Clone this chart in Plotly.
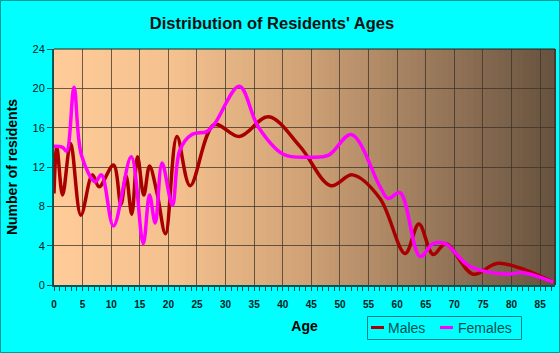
import plotly.graph_objects as go

# ---- data ----
male_ages = [0, 0.5, 1.5, 2.9, 4.7, 6.7, 7.9, 10.4, 11.7, 12.6, 13.6, 14.6, 15.7, 16.7, 18.0, 19.5,
             21.5, 23.8, 28.0, 32.4, 37.5, 43.0, 48.4, 52.2, 57.0, 61.4, 63.8, 66.3, 68.5, 73.3, 77.7, 87.3]
male_vals = [9.3, 14.0, 9.15, 14.4, 7.1, 11.2, 10.0, 12.2, 8.2, 11.1, 7.2, 13.05, 9.15, 12.1, 9.4, 5.2,
             15.1, 10.1, 16.3, 15.1, 17.1, 14.1, 10.1, 11.2, 8.8, 3.2, 6.2, 3.1, 4.2, 1.1, 2.2, 0.3]

female_ages = [0, 1.5, 2.2, 3.5, 4.8, 7.2, 8.3, 10.4, 13.5, 15.6, 16.7, 17.7, 18.9, 20.7, 22.0, 24.1,
               26.7, 28.1, 32.4, 35.7, 40.1, 44.8, 48.0, 52.0, 57.0, 58.4, 60.5, 64.0, 66.3, 68.4,
               72.7, 79.1, 82.0, 87.3]
female_vals = [14.1, 14.0, 13.6, 20.1, 13.2, 10.5, 11.2, 6.0, 13.05, 4.2, 9.15, 6.3, 12.4, 8.1, 13.7, 15.3,
               15.6, 16.4, 20.2, 16.1, 13.3, 13.0, 13.2, 15.3, 10.0, 8.8, 9.4, 2.9, 4.2, 4.2,
               1.9, 1.1, 1.25, 0.3]

x_ticks = list(range(0, 90, 5))
y_ticks = list(range(0, 25, 4))
series_names = ["Males", "Females"]
series_colors = ["#A80000", "#FF00FF"]

W, H = 560, 353
ML, MR, MT, MB = 54, 5, 49, 68
pw, ph = W - ML - MR, H - MT - MB

def px_x(p):
    return (p - ML) / pw

def px_y(p):
    return (H - MB - p) / ph

fig = go.Figure()
fig.add_trace(go.Scatter(x=male_ages, y=male_vals, name=series_names[0], mode="lines",
                         line=dict(color=series_colors[0], width=3.5, shape="spline", smoothing=1.0)))
fig.add_trace(go.Scatter(x=female_ages, y=female_vals, name=series_names[1], mode="lines",
                         line=dict(color=series_colors[1], width=3.5, shape="spline", smoothing=1.0)))

# gradient background of the plot area
stops = [(0.0, (255, 204, 153)), (0.25, (243, 192, 142)), (0.5, (208, 162, 118)),
         (0.75, (155, 122, 92)), (1.0, (102, 82, 62))]
def col(t):
    for (t0, c0), (t1, c1) in zip(stops[:-1], stops[1:]):
        if t0 <= t <= t1:
            f = (t - t0) / (t1 - t0)
            return "rgb(%d,%d,%d)" % tuple(round(a + (b - a) * f) for a, b in zip(c0, c1))
    return "rgb(%d,%d,%d)" % stops[-1][1]
N = 80
shapes = []
for i in range(N):
    shapes.append(dict(type="rect", xref="x domain", yref="y domain", x0=i / N, x1=(i + 1) / N + 0.002,
                       y0=0, y1=1, fillcolor=col((i + 0.5) / N), line=dict(width=0), layer="below"))
# plot frame (top & right dark)
shapes.append(dict(type="line", xref="x domain", yref="y domain", x0=0, x1=1, y0=1, y1=1,
                   line=dict(color="#222222", width=1), layer="above"))
shapes.append(dict(type="line", xref="x domain", yref="y domain", x0=1, x1=1, y0=0, y1=1,
                   line=dict(color="#222222", width=1), layer="above"))
# outer border of the whole image
shapes.append(dict(type="rect", xref="paper", yref="paper",
                   x0=px_x(0.5), x1=px_x(W - 0.5), y0=px_y(H - 0.5), y1=px_y(0.5),
                   line=dict(color="#009999", width=1), fillcolor="rgba(0,0,0,0)", layer="above"))

# custom legend
shapes.append(dict(type="rect", xref="paper", yref="paper",
                   x0=px_x(367.5), x1=px_x(521.5), y0=px_y(339.5), y1=px_y(316.5),
                   line=dict(color="#008080", width=1), fillcolor="rgba(0,0,0,0)", layer="above"))
annotations = []
leg_line_x = [371, 440]
leg_text_x = [386, 456]
for name, c, lx, tx in zip(series_names, series_colors, leg_line_x, leg_text_x):
    shapes.append(dict(type="line", xref="paper", yref="paper",
                       x0=px_x(lx), x1=px_x(lx + 13), y0=px_y(327.5), y1=px_y(327.5),
                       line=dict(color=c, width=3), layer="above"))
    annotations.append(dict(text=name, xref="paper", yref="paper", x=px_x(tx), y=px_y(328),
                            xanchor="left", yanchor="middle", showarrow=False,
                            font=dict(family="Arial, Liberation Sans", size=14, color="#005050")))

fig.update_layout(
    width=W, height=H,
    margin=dict(l=ML, r=MR, t=MT, b=MB),
    paper_bgcolor="#00FFFF",
    plot_bgcolor="rgba(0,0,0,0)",
    shapes=shapes,
    annotations=annotations,
    showlegend=False,
    title=dict(text="<b>Distribution of Residents' Ages</b>", x=272 / W, xanchor="center",
               y=1 - 23 / H, yanchor="middle",
               font=dict(family="Arial, Liberation Sans", size=16.5, color="#111111")),
    font=dict(family="Arial, Liberation Sans", color="#000000"),
)

fig.update_xaxes(range=[0, 87.6], tickvals=x_ticks, ticktext=["<b>%d</b>" % v for v in x_ticks],
                 showgrid=True, gridcolor="rgba(60,50,40,0.75)", gridwidth=1,
                 ticks="outside", ticklen=4, tickcolor="#005555",
                 minor=dict(dtick=1, ticks="outside", ticklen=4, tickcolor="#005555", showgrid=False),
                 showline=True, linecolor="#005555", linewidth=2, zeroline=False,
                 ticklabelstandoff=5,
                 tickfont=dict(size=10, color="#002222"),
                 title=dict(text="<b>Age</b>", font=dict(size=14, color="#000000"), standoff=12))
fig.update_yaxes(range=[0, 24], tickvals=y_ticks,
                 showgrid=True, gridcolor="rgba(60,50,40,0.75)", gridwidth=1,
                 ticks="outside", ticklen=5, tickcolor="#005555",
                 showline=True, linecolor="#005555", linewidth=2, zeroline=False,
                 tickfont=dict(size=11, color="#002222"),
                 title=dict(text="<b>Number of residents</b>", font=dict(size=14, color="#000000"), standoff=12))

fig.write_html("out.html")
